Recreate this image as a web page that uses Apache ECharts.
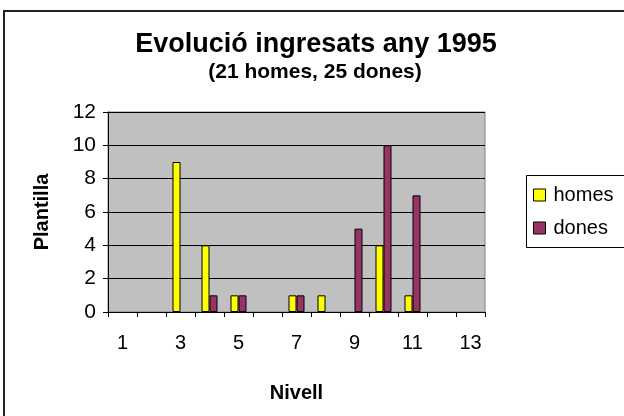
<!DOCTYPE html>
<html>
<head>
<meta charset="utf-8">
<script src="https://cdn.jsdelivr.net/npm/echarts@6/dist/echarts.min.js"></script>
<style>html,body{margin:0;padding:0;background:#fff;}#c{width:624px;height:416px;}</style>
</head>
<body>
<div id="c"></div>
<script>
const categories = ['1','2','3','4','5','6','7','8','9','10','11','12','13'];
const homes = [null,null,9,4,1,null,1,1,null,4,1,null,null];
const dones = [null,null,null,1,1,null,1,null,5,10,7,null,null];
const yTicks = [0,2,4,6,8,10,12];
const titleText = 'Evolució ingresats any 1995';
const subtitleText = '(21 homes, 25 dones)';

const FONT = '"Liberation Sans", Arial, sans-serif';
const chart = echarts.init(document.getElementById('c'));
chart.setOption({
  animation: false,
  backgroundColor: '#ffffff',
  textStyle: { fontFamily: FONT },
  title: [
    { text: titleText, left: 316, top: 31, textAlign: 'center', padding: 0,
      textStyle: { fontFamily: FONT, fontSize: 27, fontWeight: 'bold', color: '#000' } },
    { text: subtitleText, left: 315, top: 62, textAlign: 'center', padding: 0,
      textStyle: { fontFamily: FONT, fontSize: 21, fontWeight: 'bold', color: '#000' } }
  ],
  grid: { left: 108, right: 139, top: 112, bottom: 104, show: true,
          backgroundColor: '#c0c0c0', borderColor: '#808080', borderWidth: 1, containLabel: false },
  legend: {
    orient: 'vertical', left: 533, top: 185, itemWidth: 12, itemHeight: 12, itemGap: 13,
    icon: 'rect', padding: 0,
    itemStyle: { borderColor: '#000', borderWidth: 1 },
    textStyle: { fontFamily: FONT, fontSize: 20, color: '#000', padding: [0,0,0,3] },
    data: ['homes', 'dones']
  },
  xAxis: {
    type: 'category', data: categories, boundaryGap: true,
    name: 'Nivell', nameLocation: 'middle', nameGap: 71,
    nameTextStyle: { fontFamily: FONT, fontSize: 20, fontWeight: 'bold', color: '#000' },
    axisLine: { lineStyle: { color: '#000', width: 1 } },
    axisTick: { show: true, interval: 0, length: 5, lineStyle: { color: '#000' } },
    axisLabel: { interval: 1, margin: 21, fontFamily: FONT, fontSize: 20, color: '#000' },
    splitLine: { show: false }
  },
  yAxis: {
    type: 'value', min: 0, max: 12, interval: 2,
    name: 'Plantilla', nameLocation: 'middle', nameGap: 56, nameRotate: 90,
    nameTextStyle: { fontFamily: FONT, fontSize: 20, fontWeight: 'bold', color: '#000' },
    axisLine: { show: true, lineStyle: { color: '#000', width: 1 } },
    axisTick: { show: true, length: 5, lineStyle: { color: '#000' } },
    axisLabel: { margin: 12, fontFamily: FONT, fontSize: 21, color: '#000',
      formatter: v => yTicks.includes(v) ? String(v) : '' },
    splitLine: { show: true, lineStyle: { color: '#000', width: 1 } }
  },
  graphic: [
    { type: 'rect', shape: { x: 4, y: 11, width: 640, height: 430 }, style: { fill: 'none', stroke: '#222', lineWidth: 2 }, z: 100 },
    { type: 'rect', shape: { x: 526.5, y: 175.5, width: 120, height: 72 }, style: { fill: 'none', stroke: '#000', lineWidth: 1 }, z: 100 }
  ],
  series: [
    { name: 'homes', type: 'bar', data: homes, barWidth: 8, barGap: '0%',
      itemStyle: { color: '#ffff00', borderColor: '#000', borderWidth: 1 } },
    { name: 'dones', type: 'bar', data: dones, barWidth: 8, barGap: '0%',
      itemStyle: { color: '#993366', borderColor: '#000', borderWidth: 1 } }
  ]
});
</script>
</body>
</html>
